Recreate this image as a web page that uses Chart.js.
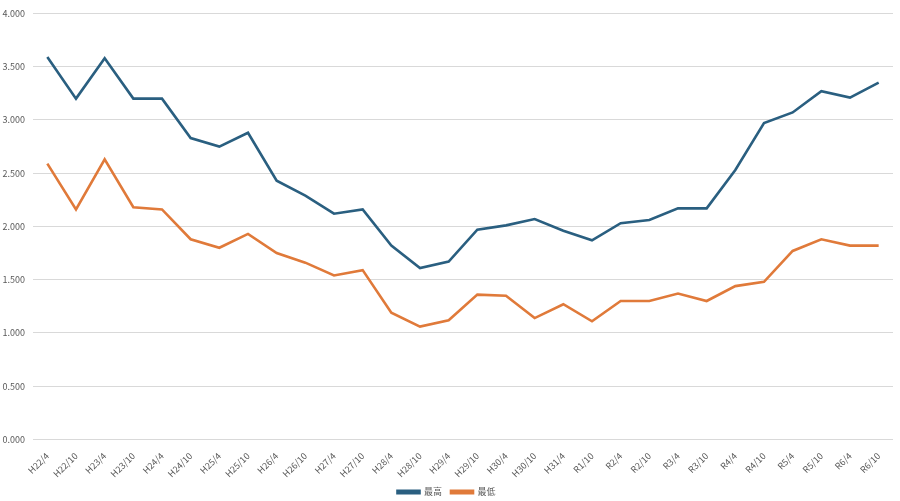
<!DOCTYPE html>
<html>
<head>
<meta charset="utf-8">
<script src="https://cdn.jsdelivr.net/npm/chart.js@4"></script>
<style>
html,body{margin:0;padding:0;background:#fff;}
#wrap{width:900px;height:501px;position:relative;}
</style>
</head>
<body>
<div id="wrap"><canvas id="c" width="900" height="501"></canvas></div>
<script>
const categories = ["H22/4","H22/10","H23/4","H23/10","H24/4","H24/10","H25/4","H25/10","H26/4","H26/10","H27/4","H27/10","H28/4","H28/10","H29/4","H29/10","H30/4","H30/10","H31/4","R1/10","R2/4","R2/10","R3/4","R3/10","R4/4","R4/10","R5/4","R5/10","R6/4","R6/10"];
const highValues = [3.59,3.20,3.58,3.20,3.20,2.83,2.75,2.88,2.43,2.29,2.12,2.16,1.82,1.61,1.67,1.97,2.01,2.07,1.96,1.87,2.03,2.06,2.17,2.17,2.53,2.97,3.07,3.27,3.21,3.35];
const lowValues = [2.59,2.16,2.63,2.18,2.16,1.88,1.80,1.93,1.75,1.66,1.54,1.59,1.19,1.06,1.12,1.36,1.35,1.14,1.27,1.11,1.30,1.30,1.37,1.30,1.44,1.48,1.77,1.88,1.82,1.82];
const seriesNames = ["最高","最低"];
const yTicks = [0,0.5,1,1.5,2,2.5,3,3.5,4];

const blue = "#2a5f80";
const orange = "#e07a3a";
const fontFam = "'Noto Sans CJK JP','Liberation Sans',sans-serif";

new Chart(document.getElementById('c'), {
  type: 'line',
  data: {
    labels: categories,
    datasets: [
      {label: seriesNames[0], data: highValues, borderColor: blue, backgroundColor: blue, borderWidth: 2.6, pointRadius: 0, tension: 0},
      {label: seriesNames[1], data: lowValues, borderColor: orange, backgroundColor: orange, borderWidth: 2.6, pointRadius: 0, tension: 0}
    ]
  },
  options: {
    responsive: false,
    animation: false,
    layout: {padding: {top: 12, right: 7, bottom: -5.5, left: 0}},
    plugins: {
      legend: {
        position: 'bottom',
        labels: {
          boxWidth: 22, boxHeight: 2.5, padding: 9,
          color: '#595959',
          font: {family: fontFam, size: 9}
        }
      },
      tooltip: {enabled: false}
    },
    scales: {
      x: {
        offset: true,
        grid: {display: false},
        border: {display: false},
        ticks: {
          color: '#595959', font: {family: fontFam, size: 9},
          maxRotation: 45, minRotation: 45, autoSkip: false, padding: 3
        },
        afterFit: s => { s.height = 39; }
      },
      y: {
        min: 0, max: 4,
        afterBuildTicks: s => { s.ticks = yTicks.map(v => ({value: v})); },
        grid: {color: '#d9d9d9', lineWidth: 1, drawTicks: false},
        border: {display: false},
        ticks: {
          color: '#595959', font: {family: fontFam, size: 9}, padding: 8,
          callback: v => Number(v).toFixed(3)
        },
        afterFit: s => { s.width = 33; }
      }
    }
  }
});
</script>
</body>
</html>
